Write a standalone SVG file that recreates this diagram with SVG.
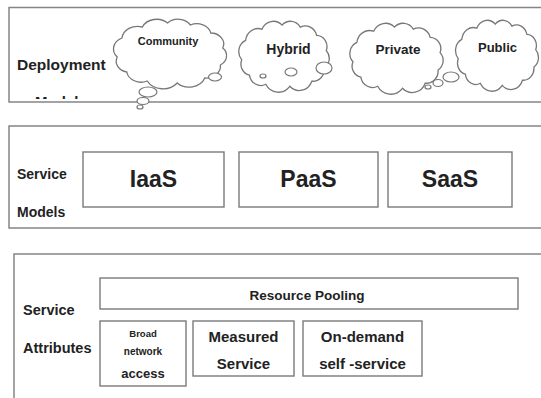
<svg xmlns="http://www.w3.org/2000/svg" xmlns:xlink="http://www.w3.org/1999/xlink" width="541" height="398" viewBox="0 0 541 398">
<style>
  .panel{fill:none;stroke:#858585;stroke-width:1.5}
  .box{fill:#fff;stroke:#7a7a7a;stroke-width:1.4}
  .cl{fill:#fff;stroke:#777;stroke-width:1.3}
  .bub{fill:#fff;stroke:#777;stroke-width:1.2}
  text{font-family:"Liberation Sans",Arial,sans-serif;font-weight:bold;fill:#222}
  .c{text-anchor:middle}
</style>
<defs>
  <path id="cloud" vector-effect="non-scaling-stroke" d="M 6,40 A 12,12 0 0 1 10,21 A 13,13 0 0 1 27,10 A 13,13 0 0 1 48,6 A 12,12 0 0 1 67,8 A 12,12 0 0 1 84,16 A 11,11 0 0 1 94,31 A 11,11 0 0 1 92,48 A 12,12 0 0 1 79,61 A 14,14 0 0 1 56,66 A 15,15 0 0 1 31,64 A 12,12 0 0 1 14,55 A 11,11 0 0 1 6,40 Z"/>
  <clipPath id="clipTop"><rect x="0" y="0" width="541" height="99"/></clipPath>
</defs>

<g id="panel-deployment">
  <rect class="panel" x="9" y="7.5" width="540" height="94.5"/>
  <text x="17" y="70" font-size="15.5">Deployment</text>
  <text x="35" y="107" font-size="15" clip-path="url(#clipTop)">Models</text>
</g>

<g id="cloud-community">
  <use xlink:href="#cloud" class="cl" transform="translate(110,17) scale(1.2,1.0)"/>
  <ellipse class="bub" cx="215" cy="77" rx="6.5" ry="4"/>
  <ellipse class="bub" cx="148" cy="92" rx="9" ry="5"/>
  <ellipse class="bub" cx="143" cy="101" rx="6" ry="3.5"/>
  <ellipse class="bub" cx="140" cy="107" rx="3" ry="2"/>
  <text class="c" x="168" y="45" font-size="11">Community</text>
</g>

<g id="cloud-hybrid">
  <use xlink:href="#cloud" class="cl" transform="translate(236,19) scale(0.96,1.02)"/>
  <ellipse class="bub" cx="263" cy="76" rx="3" ry="2"/>
  <ellipse class="bub" cx="291" cy="72" rx="6" ry="4"/>
  <ellipse class="bub" cx="324" cy="68" rx="8" ry="6"/>
  <text class="c" x="288.5" y="54" font-size="14">Hybrid</text>
</g>

<g id="cloud-private">
  <use xlink:href="#cloud" class="cl" transform="translate(347,21) scale(0.99,1.02)"/>
  <ellipse class="bub" cx="451" cy="77" rx="8" ry="5"/>
  <ellipse class="bub" cx="438" cy="83" rx="5" ry="3.5"/>
  <ellipse class="bub" cx="428" cy="87" rx="3" ry="2"/>
  <text class="c" x="398" y="54" font-size="13.5">Private</text>
</g>

<g id="cloud-public">
  <use xlink:href="#cloud" class="cl" transform="translate(453,18) scale(0.88,1.02)"/>
  <text class="c" x="497.5" y="52" font-size="13">Public</text>
</g>

<g id="panel-service-models">
  <rect class="panel" x="9" y="126" width="540" height="102"/>
  <text x="17" y="179" font-size="14">Service</text>
  <text x="17" y="217" font-size="14">Models</text>
</g>
<g id="node-iaas">
  <rect class="box" x="83" y="152" width="141" height="55"/>
  <text class="c" x="153.5" y="187" font-size="23">IaaS</text>
</g>
<g id="node-paas">
  <rect class="box" x="239" y="152" width="139" height="55"/>
  <text class="c" x="308.5" y="187" font-size="23">PaaS</text>
</g>
<g id="node-saas">
  <rect class="box" x="388" y="152" width="124" height="55"/>
  <text class="c" x="450" y="187" font-size="23">SaaS</text>
</g>

<g id="panel-service-attributes">
  <rect class="panel" x="14" y="254" width="540" height="160"/>
  <text x="23" y="315" font-size="14.5">Service</text>
  <text x="23" y="353" font-size="14.5">Attributes</text>
</g>
<g id="node-resource-pooling">
  <rect class="box" x="100" y="278" width="418" height="31"/>
  <text class="c" x="307" y="300" font-size="13.5">Resource Pooling</text>
</g>
<g id="node-broad-network">
  <rect class="box" x="100" y="321" width="86" height="65"/>
  <text class="c" x="143" y="337" font-size="9.5">Broad</text>
  <text class="c" x="143" y="355" font-size="10">network</text>
  <text class="c" x="143" y="378" font-size="13">access</text>
</g>
<g id="node-measured-service">
  <rect class="box" x="193" y="321" width="101" height="55"/>
  <text class="c" x="243.5" y="342" font-size="15">Measured</text>
  <text class="c" x="243.5" y="369" font-size="15">Service</text>
</g>
<g id="node-on-demand">
  <rect class="box" x="303" y="321" width="119" height="55"/>
  <text class="c" x="362.5" y="342" font-size="15">On-demand</text>
  <text class="c" x="362.5" y="369" font-size="15">self -service</text>
</g>
<g id="connectors"></g>
</svg>
